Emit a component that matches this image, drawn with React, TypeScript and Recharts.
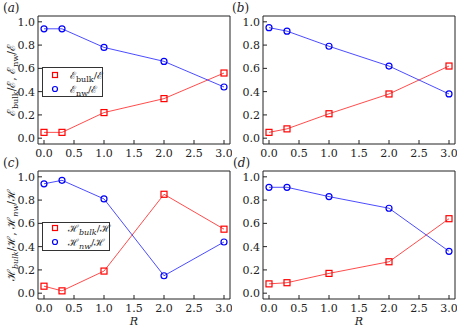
import { Line, LineChart, XAxis, YAxis } from "recharts";

const R_VALUES = [0, 0.3, 1, 2, 3];
const X_TICKS = [0, 0.5, 1, 1.5, 2, 2.5, 3];
const Y_TICKS = [0, 0.2, 0.4, 0.6, 0.8, 1.0];

const A_BULK = [0.05, 0.05, 0.22, 0.34, 0.56];
const A_NW = [0.94, 0.94, 0.78, 0.66, 0.44];
const B_BULK = [0.05, 0.08, 0.21, 0.38, 0.62];
const B_NW = [0.95, 0.92, 0.79, 0.62, 0.38];
const C_BULK = [0.06, 0.02, 0.19, 0.85, 0.55];
const C_NW = [0.94, 0.97, 0.81, 0.15, 0.44];
const D_BULK = [0.08, 0.09, 0.17, 0.27, 0.64];
const D_NW = [0.91, 0.91, 0.83, 0.73, 0.36];

const FONT = "'DejaVu Serif', 'Liberation Serif', serif";
const AXIS = "#222";
const RED = "#ff0000";
const BLUE = "#0000ff";

function makeRows(bulk: number[], nw: number[]) {
  return R_VALUES.map((r, i) => ({ r, bulk: bulk[i], nw: nw[i] }));
}

function SquareDot(props: any) {
  const { cx, cy, index } = props;
  if (cx == null || cy == null) return <g key={index} />;
  return (
    <rect
      key={index}
      x={cx - 3}
      y={cy - 3}
      width={6}
      height={6}
      fill="none"
      stroke={RED}
      strokeWidth={1.2}
    />
  );
}

interface PanelProps {
  left: number;
  top: number;
  bulk: number[];
  nw: number[];
}

// plot box is 192 x 128, offset (38, 16) inside each chart
function Panel({ left, top, bulk, nw }: PanelProps) {
  const rows = makeRows(bulk, nw);
  const tickStyle = { fill: "#222", fontSize: 11, fontFamily: FONT };
  return (
    <div style={{ position: "absolute", left, top }}>
      <LineChart
        width={232}
        height={166}
        data={rows}
        margin={{ top: 15, right: 1, bottom: 2, left: 0 }}
      >
        <XAxis
          xAxisId="b"
          dataKey="r"
          type="number"
          domain={[-0.1, 3.1]}
          ticks={X_TICKS}
          tickFormatter={(v: number) => v.toFixed(1)}
          height={20}
          tickSize={-4}
          tickMargin={9}
          tick={tickStyle}
          axisLine={{ stroke: AXIS }}
          tickLine={{ stroke: AXIS }}
          allowDataOverflow
        />
        <XAxis
          xAxisId="t"
          orientation="top"
          dataKey="r"
          type="number"
          domain={[-0.1, 3.1]}
          ticks={X_TICKS}
          height={1}
          tickSize={-4}
          tick={false}
          axisLine={{ stroke: AXIS }}
          tickLine={{ stroke: AXIS }}
          allowDataOverflow
        />
        <YAxis
          yAxisId="l"
          type="number"
          domain={[-0.05, 1.05]}
          ticks={Y_TICKS}
          tickFormatter={(v: number) => v.toFixed(1)}
          width={38}
          tickSize={-4}
          tickMargin={7}
          tick={tickStyle}
          axisLine={{ stroke: AXIS }}
          tickLine={{ stroke: AXIS }}
          allowDataOverflow
        />
        <YAxis
          yAxisId="r"
          orientation="right"
          type="number"
          domain={[-0.05, 1.05]}
          ticks={Y_TICKS}
          width={1}
          tickSize={-4}
          tick={false}
          axisLine={{ stroke: AXIS }}
          tickLine={{ stroke: AXIS }}
          allowDataOverflow
        />
        <Line
          xAxisId="b"
          yAxisId="l"
          dataKey="bulk"
          stroke={RED}
          strokeOpacity={0.7}
          strokeWidth={1}
          dot={SquareDot}
          activeDot={false}
          isAnimationActive={false}
        />
        <Line
          xAxisId="b"
          yAxisId="l"
          dataKey="nw"
          stroke={BLUE}
          strokeOpacity={0.7}
          strokeWidth={1}
          dot={{ r: 3, fill: "none", stroke: BLUE, strokeWidth: 1.2, strokeOpacity: 1 }}
          activeDot={false}
          isAnimationActive={false}
        />
      </LineChart>
    </div>
  );
}

function Sub({ children, italic }: { children: string; italic?: boolean }) {
  return (
    <tspan fontSize={8} dy={2.5} fontStyle={italic ? "italic" : "normal"}>
      {children}
    </tspan>
  );
}

function PanelTag({ x, y, letter }: { x: number; y: number; letter: string }) {
  return (
    <text x={x} y={y} fontSize={12} fontFamily={FONT} fill="#222">
      (<tspan fontStyle="italic">{letter}</tspan>)
    </text>
  );
}

function Overlay() {
  return (
    <svg
      width={462}
      height={330}
      style={{ position: "absolute", left: 0, top: 0, pointerEvents: "none" }}
      fontFamily={FONT}
    >
      <PanelTag x={3} y={12} letter="a" />
      <PanelTag x={232} y={12} letter="b" />
      <PanelTag x={3} y={167} letter="c" />
      <PanelTag x={233} y={167} letter="d" />

      {/* y axis labels */}
      <text transform="translate(15,80) rotate(-90)" textAnchor="middle" fontSize={11} fill="#222">
        ℰ<Sub>bulk</Sub>
        <tspan dy={-2.5}>/ℰ, ℰ</tspan>
        <Sub>nw</Sub>
        <tspan dy={-2.5}>/ℰ</tspan>
      </text>
      <text transform="translate(15,235) rotate(-90)" textAnchor="middle" fontSize={11} fill="#222">
        ℋ<Sub italic>bulk</Sub>
        <tspan dy={-2.5}>/ℋ, ℋ</tspan>
        <Sub italic>nw</Sub>
        <tspan dy={-2.5}>/ℋ</tspan>
      </text>

      {/* x labels */}
      <text x={134} y={325} textAnchor="middle" fontSize={11} fontStyle="italic" fill="#222">R</text>
      <text x={359} y={325} textAnchor="middle" fontSize={11} fontStyle="italic" fill="#222">R</text>

      {/* legend (a) */}
      <rect x={42.5} y={67.5} width={60} height={29} fill="#fff" stroke="#333" />
      <rect x={52.5} y={72.5} width={5} height={5} fill="none" stroke={RED} strokeWidth={1.2} />
      <circle cx={55} cy={89} r={2.5} fill="none" stroke={BLUE} strokeWidth={1.2} />
      <text x={70} y={79} fontSize={10} fill="#222">
        ℰ<Sub>bulk</Sub>
        <tspan dy={-2.5}>/ℰ</tspan>
      </text>
      <text x={70} y={93} fontSize={10} fill="#222">
        ℰ<Sub>nw</Sub>
        <tspan dy={-2.5}>/ℰ</tspan>
      </text>

      {/* legend (c) */}
      <rect x={42.5} y={222.5} width={67} height={28} fill="#fff" stroke="#333" />
      <rect x={52.5} y={225.5} width={5} height={5} fill="none" stroke={RED} strokeWidth={1.2} />
      <circle cx={55} cy={242} r={2.5} fill="none" stroke={BLUE} strokeWidth={1.2} />
      <text x={68} y={232} fontSize={10} fill="#222">
        ℋ<Sub italic>bulk</Sub>
        <tspan dy={-2.5}>/ℋ</tspan>
      </text>
      <text x={68} y={246} fontSize={10} fill="#222">
        ℋ<Sub italic>nw</Sub>
        <tspan dy={-2.5}>/ℋ</tspan>
      </text>
    </svg>
  );
}

export default function App() {
  return (
    <div
      style={{
        position: "absolute",
        left: 0,
        top: 0,
        width: 462,
        height: 330,
        background: "#fff",
        overflow: "hidden",
        fontFamily: FONT,
      }}
    >
      <Panel left={0} top={0} bulk={A_BULK} nw={A_NW} />
      <Panel left={225} top={0} bulk={B_BULK} nw={B_NW} />
      <Panel left={0} top={155} bulk={C_BULK} nw={C_NW} />
      <Panel left={225} top={155} bulk={D_BULK} nw={D_NW} />
      <Overlay />
    </div>
  );
}
